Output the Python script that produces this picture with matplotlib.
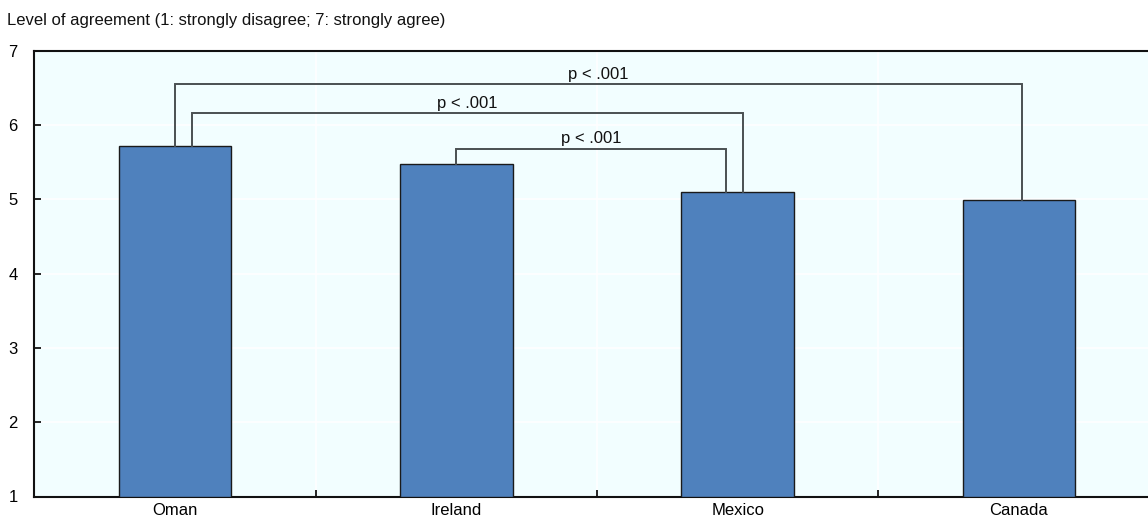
import matplotlib.pyplot as plt
import numpy as np

plt.rcParams['font.family'] = ['Liberation Sans', 'DejaVu Sans']

countries = ["Oman", "Ireland", "Mexico", "Canada"]
agreement = [5.72, 5.47, 5.10, 4.99]

# significance brackets: (left bar, right bar, bracket height, label)
pairs = [(0, 3, 6.55, "p < .001"),
         (0, 2, 6.16, "p < .001"),
         (1, 2, 5.68, "p < .001")]
# small horizontal nudges so the bracket legs don't overlap on a bar
leg_shift = [(0.0, 0.01), (0.06, 0.02), (0.0, -0.04)]

bar_color = "#4F81BD"
bg_color = "#F2FEFF"
line_color = "#4A5052"

fig = plt.figure(figsize=(11.48, 5.22), dpi=100)
ax = fig.add_axes([34.4 / 1148, 1 - 496.5 / 522, 1125.2 / 1148, 446 / 522])
ax.set_facecolor(bg_color)

x = np.arange(len(countries))
ax.bar(x, [v - 1 for v in agreement], bottom=1, width=0.4, color=bar_color,
       edgecolor="#1a1a1a", linewidth=1.0, zorder=3)

for (i, j, h, label), (si, sj) in zip(pairs, leg_shift):
    xi = x[i] + si
    xj = x[j] + sj
    ax.plot([xi, xi, xj, xj], [agreement[i], h, h, agreement[j]],
            color=line_color, linewidth=1.4, zorder=4, solid_joinstyle="miter")
    ax.text((xi + xj) / 2, h + 0.03, label, ha="center", va="bottom",
            fontsize=12, color="#111111")

ax.set_xlim(-0.5, 3.5)
ax.set_ylim(1, 7)
ax.set_yticks(range(1, 8))

# category separators as ticks and faint white grid
ax.set_xticks(np.arange(0.5, 3.5, 1))
ax.set_xticklabels([])
ax.set_xticks(x, minor=True)
ax.set_xticklabels(countries, minor=True, fontsize=12)
ax.tick_params(axis="x", which="minor", length=0, pad=5)
ax.tick_params(axis="x", which="major", direction="in", length=5, width=1.2)
ax.tick_params(axis="y", direction="in", length=5, width=1.2, labelsize=12, pad=12)
for yv in range(2, 7):
    ax.axhline(yv, color="white", linewidth=1.2, zorder=1)
for xv in np.arange(0.5, 3.5, 1):
    ax.axvline(xv, color="white", linewidth=1.2, zorder=1)

for side in ["left", "bottom", "top"]:
    ax.spines[side].set_linewidth(1.5)
    ax.spines[side].set_color("#111111")
ax.spines["right"].set_visible(False)

fig.text(7 / 1148, 1 - 20 / 522, "Level of agreement (1: strongly disagree; 7: strongly agree)",
         ha="left", va="center", fontsize=12, color="#111111")

fig.savefig("out.png", dpi=100, facecolor="white")
